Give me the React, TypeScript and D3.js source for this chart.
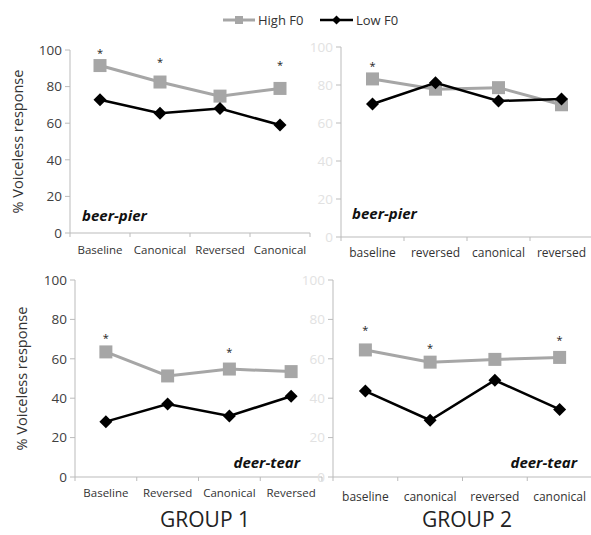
import * as d3 from 'd3';

// categories per panel
const g1TopCats = ['Baseline', 'Canonical', 'Reversed', 'Canonical'];
const g2TopCats = ['baseline', 'reversed', 'canonical', 'reversed'];
const g1BotCats = ['Baseline', 'Reversed', 'Canonical', 'Reversed'];
const g2BotCats = ['baseline', 'canonical', 'reversed', 'canonical'];

// % voiceless response
const g1TopHigh = [91.5, 82.5, 74.8, 79];
const g1TopLow = [72.8, 65.4, 68, 59];
const g2TopHigh = [83.2, 77.8, 78.6, 69.6];
const g2TopLow = [70, 81.2, 71.6, 72.6];
const g1BotHigh = [63.5, 51.3, 54.8, 53.5];
const g1BotLow = [28.1, 37, 31, 41];
const g2BotHigh = [64.5, 58.3, 59.7, 60.7];
const g2BotLow = [43.6, 28.8, 49.1, 34.3];

// significance asterisks: [category index, level]
const g1TopStars = [[0, 100], [1, 95], [3, 93]];
const g2TopStars = [[0, 91.5]];
const g1BotStars = [[0, 72], [2, 64.5]];
const g2BotStars = [[0, 76], [1, 67], [3, 71]];

const yTicks = [0, 20, 40, 60, 80, 100];

const HIGH = '#a6a6a6';
const LOW = '#000000';
const FONT = "'Open Sans', 'DejaVu Sans', sans-serif";

const panels = [
  { left: 70, right: 310, top: 50, bottom: 233, cats: g1TopCats, high: g1TopHigh, low: g1TopLow, stars: g1TopStars, word: 'beer-pier', wordX: 82, wordY: 221, wordAnchor: 'start', tickColor: '#404040', catY: 254, catSize: 11.5, yLabel: true, yLabelX: 18 },
  { left: 341, right: 593, top: 47, bottom: 237, cats: g2TopCats, high: g2TopHigh, low: g2TopLow, stars: g2TopStars, word: 'beer-pier', wordX: 352, wordY: 219, wordAnchor: 'start', tickColor: '#e2e2e2', catY: 257, catSize: 12, yLabel: false, yLabelX: 0 },
  { left: 75, right: 322, top: 280, bottom: 477, cats: g1BotCats, high: g1BotHigh, low: g1BotLow, stars: g1BotStars, word: 'deer-tear', wordX: 300, wordY: 468, wordAnchor: 'end', tickColor: '#404040', catY: 497, catSize: 11.5, yLabel: true, yLabelX: 22 },
  { left: 333, right: 592, top: 280, bottom: 477, cats: g2BotCats, high: g2BotHigh, low: g2BotLow, stars: g2BotStars, word: 'deer-tear', wordX: 577, wordY: 468, wordAnchor: 'end', tickColor: '#e2e2e2', catY: 501, catSize: 12, yLabel: false, yLabelX: 0 },
];

const diamond = (x: number, y: number, r: number) =>
  `M${x},${y - r}L${x + r},${y}L${x},${y + r}L${x - r},${y}Z`;

const Panel = ({ p }: { p: any }) => {
  const x = d3.scaleBand().domain(d3.range(p.cats.length).map(String)).range([p.left, p.right]);
  const y = d3.scaleLinear().domain([0, 100]).range([p.bottom, p.top]);
  const cx = (i: number) => (x(String(i)) as number) + x.bandwidth() / 2;
  const line = d3
    .line<number>()
    .x((_, i) => cx(i))
    .y((d) => y(d));
  const bounds = d3.range(p.cats.length + 1).map((i) => p.left + i * x.bandwidth());
  return (
    <g>
      {/* y axis */}
      <line x1={p.left} x2={p.left} y1={y(100)} y2={p.bottom} stroke="#bbb" />
      {yTicks.map((t) => (
        <g key={t}>
          <line x1={p.left - 5} x2={p.left} y1={y(t)} y2={y(t)} stroke="#bbb" />
          <text x={p.left - 8} y={y(t)} dy="0.35em" textAnchor="end" fontSize={13.5} fill={p.tickColor} fontFamily={FONT}>
            {t}
          </text>
        </g>
      ))}
      {/* x axis */}
      <line x1={p.left} x2={p.right} y1={p.bottom} y2={p.bottom} stroke="#bbb" />
      {bounds.map((b, i) => (
        <line key={i} x1={b} x2={b} y1={p.bottom} y2={p.bottom + 4} stroke="#bbb" />
      ))}
      {p.cats.map((c: string, i: number) => (
        <text key={i} x={cx(i)} y={p.catY} textAnchor="middle" fontSize={p.catSize} fill="#333" fontFamily={FONT}>
          {c}
        </text>
      ))}
      {p.yLabel && (
        <text
          transform={`translate(${p.yLabelX},${(p.top + p.bottom) / 2}) rotate(-90)`}
          dy="0.35em"
          textAnchor="middle"
          fontSize={14.5}
          fill="#333"
          fontFamily={FONT}
        >
          % Voiceless response
        </text>
      )}
      {/* series */}
      <path d={line(p.high) as string} fill="none" stroke={HIGH} strokeWidth={3} />
      {p.high.map((v: number, i: number) => (
        <rect key={i} x={cx(i) - 6.5} y={y(v) - 6.5} width={13} height={13} fill={HIGH} />
      ))}
      <path d={line(p.low) as string} fill="none" stroke={LOW} strokeWidth={2.5} />
      {p.low.map((v: number, i: number) => (
        <path key={i} d={diamond(cx(i), y(v), 6.5)} fill={LOW} />
      ))}
      {p.stars.map(([i, v]: number[], k: number) => (
        <text key={k} x={cx(i)} y={y(v) + 6.5} textAnchor="middle" fontSize={11} fill="#222" fontFamily={FONT}>
          *
        </text>
      ))}
      <text
        x={p.wordX}
        y={p.wordY}
        textAnchor={p.wordAnchor}
        fontSize={15}
        fontWeight="bold"
        fontStyle="italic"
        fill="#111"
        fontFamily={FONT}
      >
        {p.word}
      </text>
    </g>
  );
};

export default function App() {
  return (
    <svg width={591} height={535} style={{ position: 'absolute', left: 0, top: 0, background: '#fff' }}>
      {/* legend */}
      <line x1={223} x2={255} y1={20} y2={20} stroke={HIGH} strokeWidth={3} />
      <rect x={235} y={16} width={8} height={8} fill={HIGH} />
      <text x={258} y={20} dy="0.35em" fontSize={13} fill="#333" fontFamily={FONT}>
        High F0
      </text>
      <line x1={320} x2={353} y1={20} y2={20} stroke={LOW} strokeWidth={2.5} />
      <path d={diamond(336.5, 20, 4.5)} fill={LOW} />
      <text x={356} y={20} dy="0.35em" fontSize={13} fill="#333" fontFamily={FONT}>
        Low F0
      </text>
      {panels.map((p, i) => (
        <Panel key={i} p={p} />
      ))}
      <text x={205} y={527} textAnchor="middle" fontSize={21} fill="#222" fontFamily={FONT}>
        GROUP 1
      </text>
      <text x={467} y={527} textAnchor="middle" fontSize={21} fill="#222" fontFamily={FONT}>
        GROUP 2
      </text>
    </svg>
  );
}
